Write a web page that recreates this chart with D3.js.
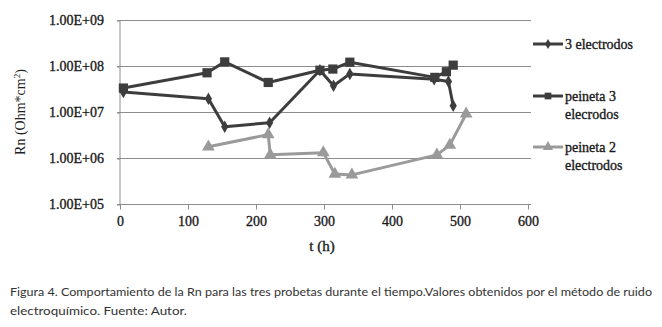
<!DOCTYPE html>
<html><head><meta charset="utf-8">
<script src="https://cdn.jsdelivr.net/npm/d3@7"></script>
<style>body{margin:0;background:#fff}</style>
</head><body>
<script>
const xTicks = [0,100,200,300,400,500,600];
const yTicks = [1e5,1e6,1e7,1e8,1e9];
const yTickLabels = ["1.00E+05","1.00E+06","1.00E+07","1.00E+08","1.00E+09"];

const t3 = [5,130,154,220,294,314,338,462,483,490];
const v3 = [2.8e7,2.0e7,4.9e6,6.0e6,8.3e7,3.8e7,6.9e7,5.3e7,4.7e7,1.4e7];

const tP3 = [5,128,154,218,294,313,338,463,480,490];
const vP3 = [3.4e7,7.3e7,1.26e8,4.5e7,8.3e7,8.8e7,1.24e8,5.8e7,7.7e7,1.07e8];

const tP2 = [130,218,221,299,316,341,466,485,509];
const vP2 = [1.8e6,3.3e6,1.2e6,1.34e6,4.6e5,4.4e5,1.2e6,1.95e6,9.3e6];

const seriesNames = [["3 electrodos"],["peineta 3","elecrodos"],["peineta 2","electrodos"]];
const caption = ["Figura 4. Comportamiento de la Rn para las tres probetas durante el tiempo.Valores obtenidos por el método de ruido",
                 "electroquímico. Fuente: Autor."];

const W=662,H=327;
const svg=d3.select("body").append("svg").attr("width",W).attr("height",H);
const x=d3.scaleLinear().domain([0,600]).range([120,528]);
const y=d3.scaleLog().domain([1e5,1e9]).range([204.5,20.5]);
const serif="'Liberation Serif', 'Times New Roman', serif";
function heavy(sel){ return sel.attr("font-family",serif).attr("fill","#1a1a1a").attr("stroke","#1a1a1a").attr("stroke-width",0.35); }

// gridlines
svg.append("g").selectAll("line").data(yTicks.slice(1)).join("line")
  .attr("x1",117).attr("x2",531).attr("y1",d=>y(d)).attr("y2",d=>y(d))
  .attr("stroke","#8c8c8c").attr("stroke-width",1);

// axes
const xa=svg.append("g").attr("transform","translate(0,204.5)")
  .call(d3.axisBottom(x).tickValues(xTicks).tickSize(5).tickPadding(7).tickFormat(d3.format("d")));
xa.select(".domain").attr("stroke","#8c8c8c").attr("d","M117,0H531");
xa.selectAll(".tick line").attr("stroke","#8c8c8c");
heavy(xa.selectAll("text")).attr("font-size",14);

const ya=svg.append("g").attr("transform","translate(120,0)")
  .call(d3.axisLeft(y).tickValues(yTicks).tickSize(3).tickPadding(13).tickFormat((d,i)=>yTickLabels[i]));
ya.select(".domain").attr("stroke","#8c8c8c").attr("d","M0,20.5V204.5");
ya.selectAll(".tick line").attr("stroke","#8c8c8c");
heavy(ya.selectAll("text")).attr("font-size",14);

heavy(svg.append("text").attr("x",322).attr("y",251).attr("text-anchor","middle")).attr("font-size",15).text("t (h)");
const yt=svg.append("text").attr("transform","translate(25,112) rotate(-90)").attr("text-anchor","middle")
  .attr("font-family",serif).attr("font-size",14).attr("fill","#222");
yt.append("tspan").text("Rn (Ohm*cm");
yt.append("tspan").attr("font-size",9).attr("dy",-5).text("2");
yt.append("tspan").attr("dy",5).text(")");

const line=d3.line().x(d=>x(d[0])).y(d=>y(d[1]));
const dark="#3d3d3d", gray="#9a9a9a";
const s3=t3.map((t,i)=>[t,v3[i]]), sP3=tP3.map((t,i)=>[t,vP3[i]]), sP2=tP2.map((t,i)=>[t,vP2[i]]);

function drawSeries(data,color,sym,size){
  svg.append("path").datum(data).attr("d",line).attr("fill","none").attr("stroke",color).attr("stroke-width",3).attr("stroke-linejoin","round");
  svg.append("g").selectAll("path").data(data).join("path")
    .attr("transform",d=>`translate(${x(d[0])},${y(d[1])})`)
    .attr("d",d3.symbol().type(sym).size(size)).attr("fill",color);
}
drawSeries(sP2,gray,d3.symbolTriangle,70);
drawSeries(s3,dark,d3.symbolDiamond,45);
drawSeries(sP3,dark,d3.symbolSquare,85);

// legend
const leg=[{y:44,c:dark,s:d3.symbolDiamond,z:30},{y:96,c:dark,s:d3.symbolSquare,z:45},{y:147,c:gray,s:d3.symbolTriangle,z:45}];
leg.forEach((l,i)=>{
  svg.append("line").attr("x1",533).attr("x2",563).attr("y1",l.y).attr("y2",l.y).attr("stroke",l.c).attr("stroke-width",3);
  svg.append("path").attr("transform",`translate(548,${l.y})`).attr("d",d3.symbol().type(l.s).size(l.z)).attr("fill",l.c);
  seriesNames[i].forEach((s,j)=>{
    heavy(svg.append("text").attr("x",565).attr("y",l.y+4.5+j*18)).attr("font-size",14).text(s);
  });
});

// caption
const capFont="Lato, 'Open Sans', sans-serif";
svg.append("text").attr("x",10).attr("y",296).attr("font-family",capFont).attr("font-size",11).attr("fill","#333")
  .attr("textLength",642).attr("lengthAdjust","spacingAndGlyphs").text(caption[0]);
svg.append("text").attr("x",10).attr("y",315).attr("font-family",capFont).attr("font-size",11).attr("fill","#333")
  .attr("textLength",177).attr("lengthAdjust","spacingAndGlyphs").text(caption[1]);
</script>
</body></html>
